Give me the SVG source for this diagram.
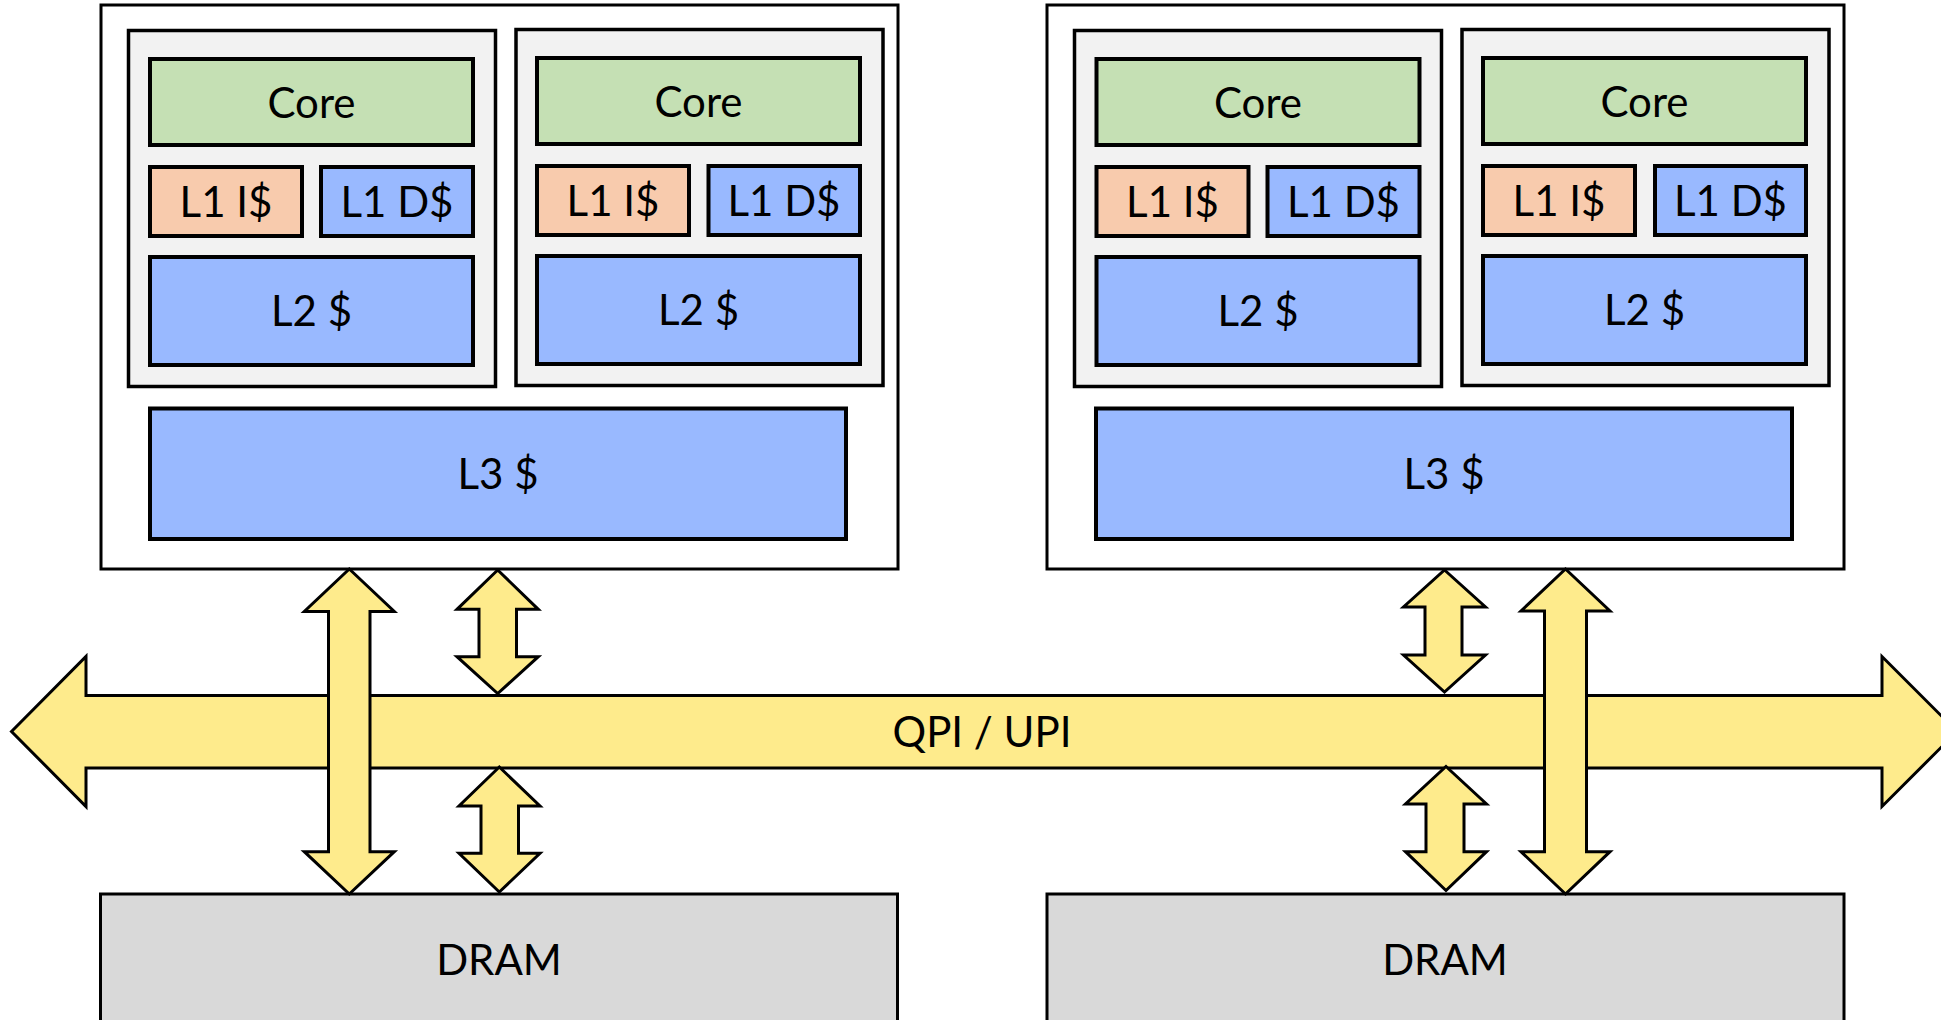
<svg xmlns="http://www.w3.org/2000/svg" width="1941" height="1020" viewBox="0 0 1941 1020">
<style>
.outer{fill:#ffffff;stroke:#000;stroke-width:3}
.panel{fill:#f2f2f2;stroke:#000;stroke-width:3.5}
.core{fill:#c5e0b4;stroke:#000;stroke-width:4}
.l1i{fill:#f8cbad;stroke:#000;stroke-width:4}
.blue{fill:#99b9ff;stroke:#000;stroke-width:4}
.dram{fill:#d9d9d9;stroke:#000;stroke-width:3}
.arrow{fill:#feeb8c;stroke:#000;stroke-width:3;stroke-linejoin:miter}
text{font-family:Lato,"Liberation Sans",sans-serif;font-size:42px;fill:#000;text-anchor:middle}
</style>
<rect width="1941" height="1020" fill="#ffffff"/>

<g id="socket1">
  <rect class="outer" x="101" y="5" width="797" height="564"/>
</g>
<g id="socket2">
  <rect class="outer" x="1047" y="5" width="797" height="564"/>
</g>

<g id="core1">
  <rect class="panel" x="128.5" y="30.5" width="367" height="356"/>
  <rect class="core" x="150" y="59" width="323" height="86"/>
  <text x="311.5" y="117.5">Core</text>
  <rect class="l1i" x="150" y="167" width="152" height="69"/>
  <text x="226" y="217">L1 I$</text>
  <rect class="blue" x="321" y="167" width="152" height="69"/>
  <text x="397" y="217">L1 D$</text>
  <rect class="blue" x="150" y="257" width="323" height="108"/>
  <text x="311.5" y="326">L2 $</text>
</g>
<g id="core2">
  <rect class="panel" x="516" y="29.5" width="367" height="356"/>
  <rect class="core" x="537" y="58" width="323" height="86"/>
  <text x="698.5" y="116.5">Core</text>
  <rect class="l1i" x="537" y="166" width="152" height="69"/>
  <text x="613" y="216">L1 I$</text>
  <rect class="blue" x="708.5" y="166" width="151.5" height="69"/>
  <text x="784" y="216">L1 D$</text>
  <rect class="blue" x="537" y="256" width="323" height="108"/>
  <text x="698.5" y="325">L2 $</text>
</g>
<g id="l3-1">
  <rect class="blue" x="150" y="408.5" width="696" height="130.5"/>
  <text x="498" y="489">L3 $</text>
</g>

<g id="core3">
  <rect class="panel" x="1074.5" y="30.5" width="367" height="356"/>
  <rect class="core" x="1096.5" y="59" width="323" height="86"/>
  <text x="1258" y="117.5">Core</text>
  <rect class="l1i" x="1096.5" y="167" width="152" height="69"/>
  <text x="1172.5" y="217">L1 I$</text>
  <rect class="blue" x="1267.5" y="167" width="152" height="69"/>
  <text x="1343.5" y="217">L1 D$</text>
  <rect class="blue" x="1096.5" y="257" width="323" height="108"/>
  <text x="1258" y="326">L2 $</text>
</g>
<g id="core4">
  <rect class="panel" x="1462" y="29.5" width="367" height="356"/>
  <rect class="core" x="1483" y="58" width="323" height="86"/>
  <text x="1644.5" y="116.5">Core</text>
  <rect class="l1i" x="1483" y="166" width="152" height="69"/>
  <text x="1559" y="216">L1 I$</text>
  <rect class="blue" x="1655" y="166" width="151" height="69"/>
  <text x="1730.5" y="216">L1 D$</text>
  <rect class="blue" x="1483" y="256" width="323" height="108"/>
  <text x="1644.5" y="325">L2 $</text>
</g>
<g id="l3-2">
  <rect class="blue" x="1096" y="408.5" width="696" height="130.5"/>
  <text x="1444" y="489">L3 $</text>
</g>

<g id="dram1">
  <rect class="dram" x="100.5" y="894" width="797" height="140"/>
  <text x="499" y="975">DRAM</text>
</g>
<g id="dram2">
  <rect class="dram" x="1047" y="894" width="797" height="140"/>
  <text x="1445" y="975">DRAM</text>
</g>

<g id="connectors">
  <g id="qpi">
    <path class="arrow" d="M11.5,731.5 L86,656.5 L86,695.5 L1882,695.5 L1882,656.5 L1957,731.5 L1882,806.5 L1882,768 L86,768 L86,806.5 Z"/>
    <text x="982" y="747">QPI / UPI</text>
  </g>
  <path class="arrow" d="M349.3,569 L394.3,611.5 L370,611.5 L370,851.7 L394.3,851.7 L349.3,894 L304.3,851.7 L328.5,851.7 L328.5,611.5 L304.3,611.5 Z"/>
  <path class="arrow" d="M1565.5,569 L1610,611 L1586.5,611 L1586.5,851.7 L1610,851.7 L1565.5,894 L1521,851.7 L1544.5,851.7 L1544.5,611 L1521,611 Z"/>
  <path class="arrow" d="M497.7,570 L538.3,609.3 L516.5,609.3 L516.5,656.7 L538.3,656.7 L497.7,693.5 L457,656.7 L479,656.7 L479,609.3 L457,609.3 Z"/>
  <path class="arrow" d="M499.3,767 L540,806 L518.5,806 L518.5,853.3 L540,853.3 L499.3,892 L459,853.3 L481,853.3 L481,806 L459,806 Z"/>
  <path class="arrow" d="M1444.5,570 L1485.5,607 L1462,607 L1462,655 L1485.5,655 L1444.5,692 L1403.5,655 L1425,655 L1425,607 L1403.5,607 Z"/>
  <path class="arrow" d="M1446,766.5 L1486.5,804 L1464,804 L1464,851.7 L1486.5,851.7 L1446,890.5 L1405.5,851.7 L1426,851.7 L1426,804 L1405.5,804 Z"/>
</g>
</svg>
